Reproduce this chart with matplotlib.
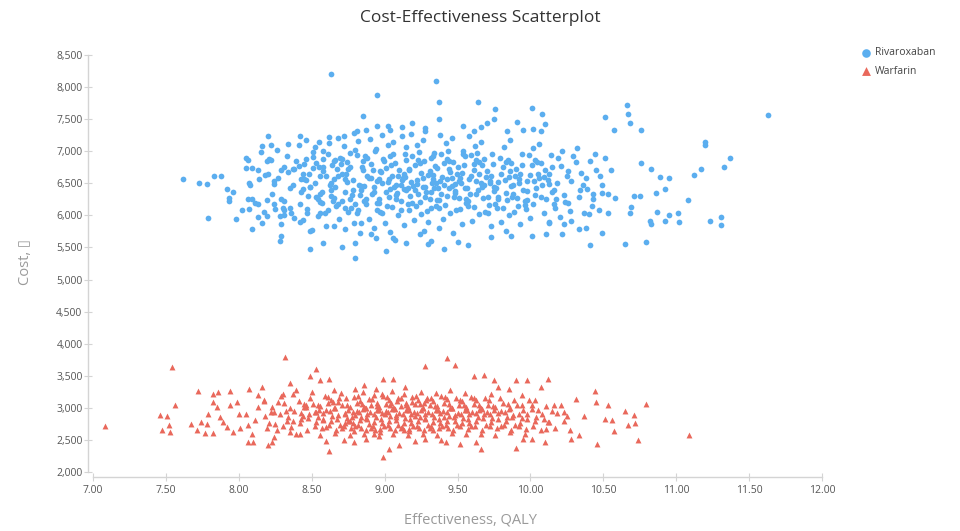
import matplotlib
matplotlib.use("Agg")
import matplotlib.pyplot as plt
import numpy as np
from matplotlib.ticker import FuncFormatter

# Rivaroxaban simulations: (effectiveness QALY, cost)
rivaroxaban_points = [
    # sparse left edge and outliers
    (7.62, 6570), (7.73, 6510), (7.78, 6495), (7.83, 6620), (7.88, 6620), (7.79, 5960),
    (7.92, 6415), (7.96, 6370), (7.93, 6275), (7.93, 6230), (7.98, 5945), (8.02, 6085),
    (8.05, 6900), (8.05, 6745), (8.09, 6745), (8.07, 6510), (8.06, 6260), (8.09, 6260),
    (8.07, 6100), (8.09, 5790), (8.13, 5980), (8.16, 5885), (8.13, 6180), (8.19, 5995),
    (8.20, 7230), (8.16, 7075), (8.22, 7090), (8.15, 6995), (8.19, 6855), (8.22, 6870),
    (8.20, 6650), (8.24, 6495), (8.24, 6180), (8.25, 6100), (8.28, 5995), (8.29, 5680),
    (8.28, 5600), (8.29, 6260), (8.31, 6085), (8.35, 6120), (8.31, 6010), (8.34, 7120),
    (8.42, 7230), (8.29, 6700), (8.31, 6760), (8.37, 6730), (8.41, 6775), (8.46, 6885),
    (8.44, 6650), (8.44, 6415), (8.38, 5960), (8.42, 5900), (8.49, 5760), (8.49, 5475),
    (8.47, 6040), (8.49, 6450), (8.51, 6745), (8.51, 6995), (8.55, 7150), (8.58, 6885),
    (8.56, 6620), (8.57, 6370), (8.56, 6040), (8.58, 5570), (8.65, 5835), (8.63, 6300),
    (8.62, 7215), (8.65, 6855), (8.71, 5510), (8.80, 5335), (8.80, 5570), (8.68, 6180),
    (8.71, 6230), (8.73, 6120), (8.72, 7245), (8.81, 7310), (8.85, 7545), (8.95, 7870),
    (8.95, 7400), (9.04, 7325), (9.12, 7370), (9.19, 7435), (9.28, 7355), (8.63, 8200),
    (9.35, 8100), (9.37, 7760), (9.37, 7500), (8.84, 5885), (8.91, 5710), (9.01, 5445),
    (9.06, 5650), (9.15, 5570), (9.30, 5555), (9.32, 5600), (9.41, 5475), (9.50, 5585),
    (9.57, 5540), (9.73, 5665), (9.83, 5760), (9.87, 5680), (10.01, 5680), (10.11, 5710),
    (10.13, 5885), (10.22, 5710), (10.23, 5870), (10.28, 5915), (10.33, 5790), (10.38, 5805),
    (10.40, 6025), (10.41, 5540), (10.49, 5725), (10.65, 5555), (10.79, 5585),
    (9.64, 7760), (9.76, 7665), (10.01, 7680), (10.08, 7575), (9.91, 7450), (9.75, 7510),
    (9.70, 7435), (9.66, 7385), (9.54, 7400), (9.61, 7310), (9.84, 7310), (9.95, 7325),
    (10.02, 7340), (10.07, 7310), (10.10, 7420),
    # sparse right edge and outliers
    (10.51, 7530), (10.66, 7716), (10.67, 7575), (10.68, 7434), (10.76, 7325), (10.57, 7325),
    (11.63, 7560), (11.20, 7150), (11.20, 7090), (11.37, 6900), (11.33, 6760), (11.17, 6730),
    (11.12, 6635), (11.08, 6245), (11.23, 5915), (11.31, 5980), (11.31, 5850), (11.02, 5900),
    (10.95, 6000), (10.92, 5915), (10.83, 5870), (10.82, 5915), (10.87, 6055), (11.01, 6040),
    (10.92, 6415), (10.95, 6590), (10.89, 6600), (10.83, 6730), (10.76, 6820), (10.86, 6350),
    (10.75, 6300), (10.71, 6300), (10.68, 6040), (10.69, 6130), (10.53, 6040), (10.58, 6275),
    (10.49, 6350), (10.43, 6340),
    # dense core
    (8.08, 6480), (8.13, 6710), (8.11, 6190), (8.06, 6870), (8.14, 6560),
    (8.18, 6630), (8.23, 6330), (8.21, 6880), (8.17, 6060), (8.24, 6530), (8.19, 6240),
    (8.27, 6590), (8.33, 6930), (8.31, 6230), (8.26, 7020), (8.35, 6420), (8.29, 5860),
    (8.34, 6670), (8.30, 6120),
    (8.38, 6720), (8.43, 6360), (8.41, 7090), (8.36, 6040), (8.45, 6570), (8.39, 6850),
    (8.44, 5930), (8.37, 6470), (8.42, 6180), (8.46, 7170),
    (8.48, 6640), (8.53, 6290), (8.51, 6910), (8.47, 6100), (8.55, 6760), (8.49, 6440),
    (8.54, 5990), (8.52, 7060), (8.46, 6550), (8.56, 6210), (8.50, 5770), (8.53, 6820),
    (8.58, 6690), (8.63, 6400), (8.61, 6960), (8.57, 6190), (8.65, 6570), (8.59, 6030),
    (8.64, 6790), (8.62, 7130), (8.56, 6340), (8.66, 6870), (8.60, 5840), (8.63, 6510),
    (8.58, 7000), (8.65, 6270),
    (8.68, 6610), (8.73, 6370), (8.71, 6880), (8.67, 6140), (8.75, 6730), (8.69, 5950),
    (8.74, 6520), (8.72, 7080), (8.66, 6440), (8.76, 6260), (8.70, 6800), (8.73, 5790),
    (8.68, 7210), (8.75, 6060), (8.71, 6650),
    (8.78, 6550), (8.83, 6310), (8.81, 6940), (8.77, 6120), (8.85, 6700), (8.79, 5880),
    (8.84, 6460), (8.82, 7160), (8.76, 6760), (8.86, 6220), (8.80, 7020), (8.83, 5730),
    (8.78, 6390), (8.85, 6850), (8.81, 6030), (8.79, 7290),
    (8.88, 6610), (8.93, 6360), (8.91, 6800), (8.87, 6180), (8.95, 6530), (8.89, 5940),
    (8.94, 7040), (8.92, 6700), (8.86, 6460), (8.96, 6250), (8.90, 7190), (8.93, 5810),
    (8.88, 6890), (8.95, 6080), (8.91, 6580), (8.87, 7330), (8.94, 5650),
    (8.98, 6500), (9.03, 6290), (9.01, 6740), (8.97, 6050), (9.05, 6620), (8.99, 6880),
    (9.04, 6410), (9.02, 7100), (8.96, 6200), (9.06, 6950), (9.00, 5880), (9.03, 6570),
    (8.98, 7250), (9.05, 6130), (9.01, 6360), (8.97, 6690), (9.04, 5740), (9.02, 7400),
    (9.08, 6470), (9.13, 6640), (9.11, 6230), (9.07, 6820), (9.15, 6390), (9.09, 6010),
    (9.14, 6960), (9.12, 6550), (9.06, 7140), (9.16, 6170), (9.10, 6710), (9.13, 5850),
    (9.08, 6310), (9.15, 7060), (9.11, 6480), (9.07, 5620), (9.14, 6600), (9.12, 7230),
    (9.18, 6520), (9.23, 6340), (9.21, 6780), (9.17, 6090), (9.25, 6660), (9.19, 6920),
    (9.24, 6210), (9.22, 7090), (9.16, 6430), (9.26, 6580), (9.20, 5930), (9.23, 6860),
    (9.18, 7270), (9.25, 6020), (9.21, 6400), (9.17, 6720), (9.24, 5710), (9.22, 6490),
    (9.28, 6450), (9.33, 6630), (9.31, 6260), (9.27, 6850), (9.35, 6500), (9.29, 6070),
    (9.34, 6980), (9.32, 6370), (9.26, 7170), (9.36, 6740), (9.30, 5890), (9.33, 6560),
    (9.28, 7320), (9.35, 6150), (9.31, 6690), (9.27, 5760), (9.34, 6420), (9.32, 6900),
    (9.38, 6540), (9.43, 6300), (9.41, 6820), (9.37, 6110), (9.45, 6680), (9.39, 6960),
    (9.44, 6420), (9.42, 7130), (9.36, 6240), (9.46, 6590), (9.40, 5950), (9.43, 6880),
    (9.38, 7260), (9.45, 6040), (9.41, 6470), (9.37, 5800), (9.44, 6720),
    (9.48, 6490), (9.53, 6660), (9.51, 6270), (9.47, 6830), (9.55, 6420), (9.49, 6080),
    (9.54, 7010), (9.52, 6580), (9.46, 7200), (9.56, 6190), (9.50, 6750), (9.53, 5870),
    (9.48, 6350), (9.55, 6920), (9.51, 6530), (9.47, 5720),
    (9.58, 6560), (9.63, 6330), (9.61, 6800), (9.57, 6140), (9.65, 6650), (9.59, 6940),
    (9.64, 6400), (9.62, 7080), (9.56, 6250), (9.66, 6510), (9.60, 5920), (9.63, 6870),
    (9.58, 7240), (9.65, 6020), (9.61, 6700),
    (9.68, 6470), (9.73, 6620), (9.71, 6290), (9.67, 6780), (9.75, 6380), (9.69, 6060),
    (9.74, 6960), (9.72, 6540), (9.66, 7150), (9.76, 6180), (9.70, 6690), (9.73, 5840),
    (9.68, 6880), (9.75, 6450), (9.71, 6030),
    (9.78, 6520), (9.83, 6350), (9.81, 6760), (9.77, 6120), (9.85, 6600), (9.79, 6900),
    (9.84, 6240), (9.82, 7060), (9.76, 6430), (9.86, 6690), (9.80, 5900), (9.83, 6830),
    (9.78, 6280), (9.85, 6010),
    (9.88, 6480), (9.93, 6640), (9.91, 6270), (9.87, 6810), (9.95, 6390), (9.89, 6050),
    (9.94, 6950), (9.92, 6560), (9.86, 7170), (9.96, 6160), (9.90, 6720), (9.93, 5860),
    (9.88, 6340),
    (9.98, 6530), (10.03, 6310), (10.01, 6790), (9.97, 6100), (10.05, 6640), (9.99, 6940),
    (10.04, 6420), (10.02, 7050), (9.96, 6230), (10.06, 6580), (10.00, 5960), (10.03, 6870),
    (9.98, 6380),
    (10.08, 6470), (10.13, 6650), (10.11, 6250), (10.07, 6820), (10.15, 6360), (10.09, 6040),
    (10.14, 6940), (10.12, 6550), (10.06, 7120), (10.16, 6180), (10.10, 6710), (10.13, 5900),
    (10.18, 6500), (10.23, 6320), (10.21, 6770), (10.17, 6110), (10.25, 6620), (10.19, 6900),
    (10.24, 6210), (10.22, 7000), (10.16, 6400), (10.26, 6690), (10.20, 5980),
    (10.28, 6540), (10.33, 6280), (10.31, 6830), (10.27, 6070), (10.35, 6660), (10.29, 6930),
    (10.34, 6390), (10.32, 7050), (10.26, 6200), (10.36, 6480),
    (10.38, 6580), (10.43, 6260), (10.41, 6850), (10.37, 6030), (10.45, 6700), (10.39, 6410),
    (10.44, 6960), (10.42, 6150),
    (10.48, 6620), (10.53, 6340), (10.51, 6890), (10.47, 6090), (10.55, 6710), (10.49, 6480),
    # extra points filling the densest part
    (8.425, 6560), (8.475, 6300), (8.445, 6800), (8.525, 6500), (8.575, 6760), (8.545, 6260),
    (8.595, 6620), (8.625, 6470), (8.675, 6720), (8.645, 6230), (8.695, 6900), (8.615, 6090),
    (8.725, 6560), (8.775, 6310), (8.745, 6830), (8.795, 6170), (8.735, 6640), (8.765, 6980),
    (8.825, 6480), (8.875, 6250), (8.845, 6760), (8.895, 6590), (8.815, 6080), (8.865, 6920),
    (8.835, 6390), (8.925, 6450), (8.975, 6680), (8.945, 6190), (8.995, 6850), (8.915, 6330),
    (8.965, 6560), (8.935, 7010), (8.985, 6040), (9.025, 6520), (9.075, 6260), (9.045, 6790),
    (9.095, 6610), (9.015, 6140), (9.065, 6440), (9.035, 6930), (9.085, 6350), (9.125, 6580),
    (9.175, 6300), (9.145, 6870), (9.195, 6460), (9.115, 6090), (9.165, 6710), (9.135, 6410),
    (9.185, 6190), (9.225, 6550), (9.275, 6280), (9.245, 6820), (9.295, 6630), (9.215, 6150),
    (9.265, 6440), (9.235, 6990), (9.285, 6360), (9.325, 6510), (9.375, 6240), (9.345, 6770),
    (9.395, 6600), (9.315, 6110), (9.365, 6420), (9.335, 6920), (9.385, 6330), (9.425, 6560),
    (9.475, 6290), (9.445, 6850), (9.495, 6650), (9.415, 6160), (9.465, 6460), (9.435, 7000),
    (9.485, 6380), (9.525, 6500), (9.575, 6230), (9.545, 6780), (9.595, 6610), (9.515, 6100),
    (9.565, 6420), (9.535, 6950), (9.585, 6340), (9.625, 6540), (9.675, 6270), (9.645, 6830),
    (9.695, 6600), (9.615, 6130), (9.665, 6450), (9.635, 6980), (9.725, 6510), (9.775, 6250),
    (9.745, 6800), (9.795, 6640), (9.715, 6160), (9.765, 6420), (9.825, 6550), (9.875, 6290),
    (9.845, 6860), (9.895, 6610), (9.815, 6120), (9.865, 6460), (9.925, 6500), (9.975, 6240),
    (9.945, 6790), (9.995, 6630), (9.915, 6150), (10.025, 6540), (10.075, 6280), (10.045, 6830),
    (10.095, 6600), (10.015, 6170), (10.125, 6490), (10.175, 6260), (10.145, 6760),
]

# Warfarin simulations: (effectiveness QALY, cost)
warfarin_points = [
    # sparse left edge and outliers
    (7.08, 2720), (7.54, 3630), (7.56, 3050), (7.46, 2895), (7.51, 2880), (7.52, 2735),
    (7.47, 2655), (7.53, 2625), (7.72, 3270), (7.67, 2750), (7.71, 2655), (7.74, 2785),
    (7.77, 2610), (7.82, 2610), (7.78, 2750), (7.79, 2910), (7.82, 3220), (7.86, 3240),
    (7.82, 3095), (7.85, 3020), (7.87, 2860), (7.89, 2785), (7.92, 2705), (7.94, 3270),
    (7.94, 3050), (7.99, 3095), (8.00, 2910), (8.01, 2690), (7.96, 2625), (8.07, 3300),
    (8.06, 2470), (8.10, 2470), (8.09, 2595), (8.05, 2910), (8.06, 2735), (8.13, 3205),
    (8.16, 3330), (8.17, 3110), (8.13, 3020), (8.11, 2815), (8.20, 2425), (8.23, 2470),
    (8.24, 2550), (8.25, 2750), (8.22, 2940), (8.27, 3095), (8.32, 3800), (8.30, 3220),
    (8.35, 3380), (8.39, 3285), (8.35, 2625), (8.42, 2595), (8.49, 3490), (8.53, 3600),
    (8.56, 3440), (8.62, 3455), (8.60, 2485), (8.62, 2330), (8.72, 2500), (8.79, 2470),
    (8.87, 2515), (8.93, 2595), (8.86, 3360), (8.80, 3300), (8.99, 2235), (8.99, 3455),
    (9.06, 3455), (9.03, 2360), (9.10, 2425), (9.21, 2485), (9.28, 3645), (9.28, 2515),
    (9.43, 3770), (9.48, 3675), (9.61, 3490), (9.68, 3505), (9.75, 3440), (9.90, 3440),
    (9.98, 3440), (10.12, 3455), (10.07, 3330), (9.85, 3300), (9.78, 3330), (9.94, 3205),
    (9.39, 2500), (9.42, 2470), (9.52, 2440), (9.63, 2470), (9.66, 2360), (9.90, 2375),
    (9.95, 2515), (10.01, 2515), (10.10, 2470), (10.11, 2675),
    # sparse right edge and outliers
    (10.44, 3270), (10.31, 3145), (10.45, 3095), (10.53, 3050), (10.79, 3065), (10.65, 2955),
    (10.71, 2895), (10.56, 2815), (10.51, 2830), (10.37, 2880), (10.67, 2735), (10.72, 2765),
    (10.57, 2640), (10.74, 2500), (10.46, 2440), (10.33, 2580), (10.28, 2515), (10.27, 2655),
    (11.09, 2580), (10.23, 2940), (10.16, 3050), (10.12, 2785), (10.01, 2985), (10.03, 3125),
    # dense core
    (8.18, 2880), (8.23, 3020), (8.21, 2760), (8.17, 3130), (8.24, 2940), (8.19, 2680),
    (8.28, 2910), (8.33, 2790), (8.31, 3070), (8.26, 2650), (8.35, 2990), (8.29, 3180),
    (8.34, 2860), (8.30, 2720),
    (8.38, 2950), (8.43, 2820), (8.41, 3100), (8.36, 2700), (8.45, 3010), (8.39, 2600),
    (8.44, 2880), (8.37, 3210), (8.42, 2760), (8.46, 3050),
    (8.48, 2900), (8.53, 2780), (8.51, 3060), (8.47, 2660), (8.55, 2970), (8.49, 3160),
    (8.54, 2850), (8.52, 2720), (8.46, 3010), (8.56, 2580), (8.50, 3240), (8.53, 2930),
    (8.58, 2920), (8.63, 2800), (8.61, 3080), (8.57, 2680), (8.65, 2990), (8.59, 3190),
    (8.64, 2870), (8.62, 2740), (8.56, 3030), (8.66, 2610), (8.60, 2960), (8.63, 3130),
    (8.58, 2830), (8.65, 3280),
    (8.68, 2890), (8.73, 2770), (8.71, 3040), (8.67, 2650), (8.75, 2960), (8.69, 3150),
    (8.74, 2840), (8.72, 2710), (8.66, 3000), (8.76, 2580), (8.70, 3230), (8.73, 2910),
    (8.68, 3090), (8.75, 2800), (8.71, 2680),
    (8.78, 2930), (8.83, 2810), (8.81, 3070), (8.77, 2690), (8.85, 2980), (8.79, 3170),
    (8.84, 2860), (8.82, 2740), (8.76, 3020), (8.86, 2600), (8.80, 2890), (8.83, 3110),
    (8.78, 2770), (8.85, 3250), (8.81, 2950), (8.79, 2640),
    (8.88, 2900), (8.93, 2780), (8.91, 3050), (8.87, 2660), (8.95, 2970), (8.89, 3140),
    (8.94, 2850), (8.92, 2720), (8.86, 3010), (8.96, 2560), (8.90, 2930), (8.93, 3200),
    (8.88, 2820), (8.95, 3080), (8.91, 2690), (8.87, 2990), (8.94, 3300),
    (8.98, 2920), (9.03, 2800), (9.01, 3060), (8.97, 2670), (9.05, 2980), (8.99, 3180),
    (9.04, 2870), (9.02, 2730), (8.96, 3020), (9.06, 2590), (9.00, 2900), (9.03, 3120),
    (8.98, 2760), (9.05, 3260), (9.01, 2950), (8.97, 2630), (9.04, 3040),
    (9.08, 2890), (9.13, 2770), (9.11, 3030), (9.07, 2650), (9.15, 2960), (9.09, 3150),
    (9.14, 2840), (9.12, 2700), (9.06, 3000), (9.16, 2570), (9.10, 2920), (9.13, 3220),
    (9.08, 2810), (9.15, 3080), (9.11, 2680), (9.07, 2980), (9.14, 3320),
    (9.18, 2910), (9.23, 2790), (9.21, 3060), (9.17, 2670), (9.25, 2970), (9.19, 3170),
    (9.24, 2860), (9.22, 2720), (9.16, 3010), (9.26, 2600), (9.20, 2940), (9.23, 3130),
    (9.18, 2760), (9.25, 3250), (9.21, 2880), (9.17, 2640),
    (9.28, 2900), (9.33, 2780), (9.31, 3040), (9.27, 2660), (9.35, 2960), (9.29, 3160),
    (9.34, 2850), (9.32, 2710), (9.26, 3000), (9.36, 2580), (9.30, 2930), (9.33, 3100),
    (9.28, 2820), (9.35, 3230), (9.31, 2690), (9.27, 3070),
    (9.38, 2920), (9.43, 2800), (9.41, 3070), (9.37, 2680), (9.45, 2990), (9.39, 3180),
    (9.44, 2870), (9.42, 2740), (9.36, 3030), (9.46, 2610), (9.40, 2950), (9.43, 3140),
    (9.38, 2770), (9.45, 3280), (9.41, 2860),
    (9.48, 2890), (9.53, 2770), (9.51, 3040), (9.47, 2650), (9.55, 2960), (9.49, 3150),
    (9.54, 2840), (9.52, 2710), (9.46, 3000), (9.56, 2590), (9.50, 2920), (9.53, 3110),
    (9.48, 2800), (9.55, 3230),
    (9.58, 2910), (9.63, 2790), (9.61, 3060), (9.57, 2670), (9.65, 2970), (9.59, 3170),
    (9.64, 2850), (9.62, 2720), (9.56, 3010), (9.66, 2600), (9.60, 2940), (9.63, 3120),
    (9.58, 2760),
    (9.68, 2900), (9.73, 2780), (9.71, 3050), (9.67, 2660), (9.75, 2960), (9.69, 3150),
    (9.74, 2840), (9.72, 2710), (9.66, 3000), (9.76, 2580), (9.70, 2930), (9.73, 3210),
    (9.78, 2920), (9.83, 2800), (9.81, 3070), (9.77, 2680), (9.85, 2980), (9.79, 3160),
    (9.84, 2860), (9.82, 2730), (9.76, 3020), (9.86, 2620), (9.80, 2950),
    (9.88, 2890), (9.93, 2770), (9.91, 3040), (9.87, 2650), (9.95, 2970), (9.89, 3130),
    (9.94, 2840), (9.92, 2710), (9.86, 3000), (9.96, 2590),
    (9.98, 2910), (10.03, 2790), (10.01, 3050), (9.97, 2670), (10.05, 2960), (9.99, 3120),
    (10.04, 2850), (10.02, 2720),
    (10.08, 2900), (10.13, 2780), (10.11, 3030), (10.07, 2660), (10.15, 2950), (10.09, 2830),
    (10.18, 2920), (10.23, 2800), (10.21, 3040), (10.17, 2690), (10.25, 2870),
    # extra points filling the densest part
    (8.325, 2950), (8.375, 2800), (8.425, 2920), (8.475, 2840), (8.445, 3060), (8.525, 2930),
    (8.575, 2810), (8.545, 3050), (8.595, 2700), (8.625, 2950), (8.675, 2830), (8.645, 3090),
    (8.695, 2740), (8.615, 3170), (8.725, 2920), (8.775, 2860), (8.745, 3040), (8.795, 2720),
    (8.735, 3160), (8.765, 2790), (8.825, 2940), (8.875, 2840), (8.845, 3060), (8.895, 2750),
    (8.815, 3180), (8.865, 2990), (8.835, 2680), (8.925, 2910), (8.975, 2820), (8.945, 3030),
    (8.995, 2710), (8.915, 3140), (8.965, 2960), (8.935, 2660), (8.985, 3220), (9.025, 2930),
    (9.075, 2850), (9.045, 3070), (9.095, 2740), (9.015, 3170), (9.065, 2990), (9.035, 2690),
    (9.085, 3110), (9.125, 2900), (9.175, 2830), (9.145, 3040), (9.195, 2720), (9.115, 3150),
    (9.165, 2970), (9.135, 2660), (9.185, 3090), (9.225, 2920), (9.275, 2840), (9.245, 3060),
    (9.295, 2730), (9.215, 3180), (9.265, 2990), (9.235, 2680), (9.285, 3120), (9.325, 2910),
    (9.375, 2830), (9.345, 3030), (9.395, 2710), (9.315, 3150), (9.365, 2960), (9.335, 2650),
    (9.425, 2930), (9.475, 2850), (9.445, 3060), (9.495, 2740), (9.415, 3170), (9.465, 2990),
    (9.435, 2690), (9.525, 2900), (9.575, 2820), (9.545, 3040), (9.595, 2720), (9.515, 3130),
    (9.565, 2960), (9.625, 2920), (9.675, 2840), (9.645, 3050), (9.695, 2730), (9.615, 3160),
    (9.665, 2980), (9.725, 2910), (9.775, 2830), (9.745, 3030), (9.795, 2710), (9.715, 3120),
    (9.825, 2930), (9.875, 2850), (9.845, 3060), (9.895, 2740), (9.925, 2900), (9.975, 2820),
    (9.945, 3040),
]

series_names = ["Rivaroxaban", "Warfarin"]
x_ticks = np.arange(7.0, 12.01, 0.5)
y_ticks = np.arange(2000, 8501, 500)

riva = np.array(rivaroxaban_points)
warf = np.array(warfarin_points)

plt.rcParams["font.family"] = ["Open Sans", "DejaVu Sans"]

fig = plt.figure(figsize=(9.6, 5.31), dpi=100)
ax = fig.add_axes([93 / 960, 1 - 472 / 531, 729 / 960, 417 / 531])

ax.scatter(riva[:, 0], riva[:, 1], s=17, marker="o", color="#5BAEEF",
           linewidths=0, label=series_names[0])
ax.scatter(warf[:, 0], warf[:, 1], s=18, marker="^", color="#E9685B",
           linewidths=0, label=series_names[1])

ax.set_xlim(7.0, 12.0)
ax.set_ylim(2000, 8500)
ax.set_xticks(x_ticks)
ax.set_yticks(y_ticks)
ax.xaxis.set_major_formatter(FuncFormatter(lambda v, p: "%.2f" % v))
ax.yaxis.set_major_formatter(FuncFormatter(lambda v, p: "{:,.0f}".format(v)))

for side in ["top", "right"]:
    ax.spines[side].set_visible(False)
for side in ["left", "bottom"]:
    ax.spines[side].set_color("#d4d4d4")
    ax.spines[side].set_linewidth(1.0)
    ax.spines[side].set_position(("outward", 3.6))

ax.tick_params(axis="both", direction="inout", length=6, width=0.8,
               color="#d4d4d4", labelcolor="#555555", labelsize=7.5)
ax.tick_params(axis="y", pad=1)
ax.tick_params(axis="x", pad=3)

ax.set_xlabel("Effectiveness, QALY", fontsize=10.5, color="#9a9a9a")
ax.set_ylabel("Cost, \u25af", fontsize=10.5, color="#9a9a9a")
ax.xaxis.set_label_coords((470 - 93) / 729, (472 - 512) / 417)
ax.yaxis.set_label_coords((33 - 93) / 729, (472 - 262) / 417)

fig.text(0.5, 1 - 18 / 531, "Cost-Effectiveness Scatterplot", ha="center",
         va="center", fontsize=12.5, color="#333333")

leg = fig.legend(loc="upper left", bbox_to_anchor=(850 / 960, 1 - 38 / 531),
                 frameon=False, fontsize=7.5, markerscale=1.5,
                 handletextpad=0.3, labelspacing=0.7, handlelength=1.2)
for t in leg.get_texts():
    t.set_color("#444444")

fig.savefig("out.png", dpi=100, facecolor="white")
